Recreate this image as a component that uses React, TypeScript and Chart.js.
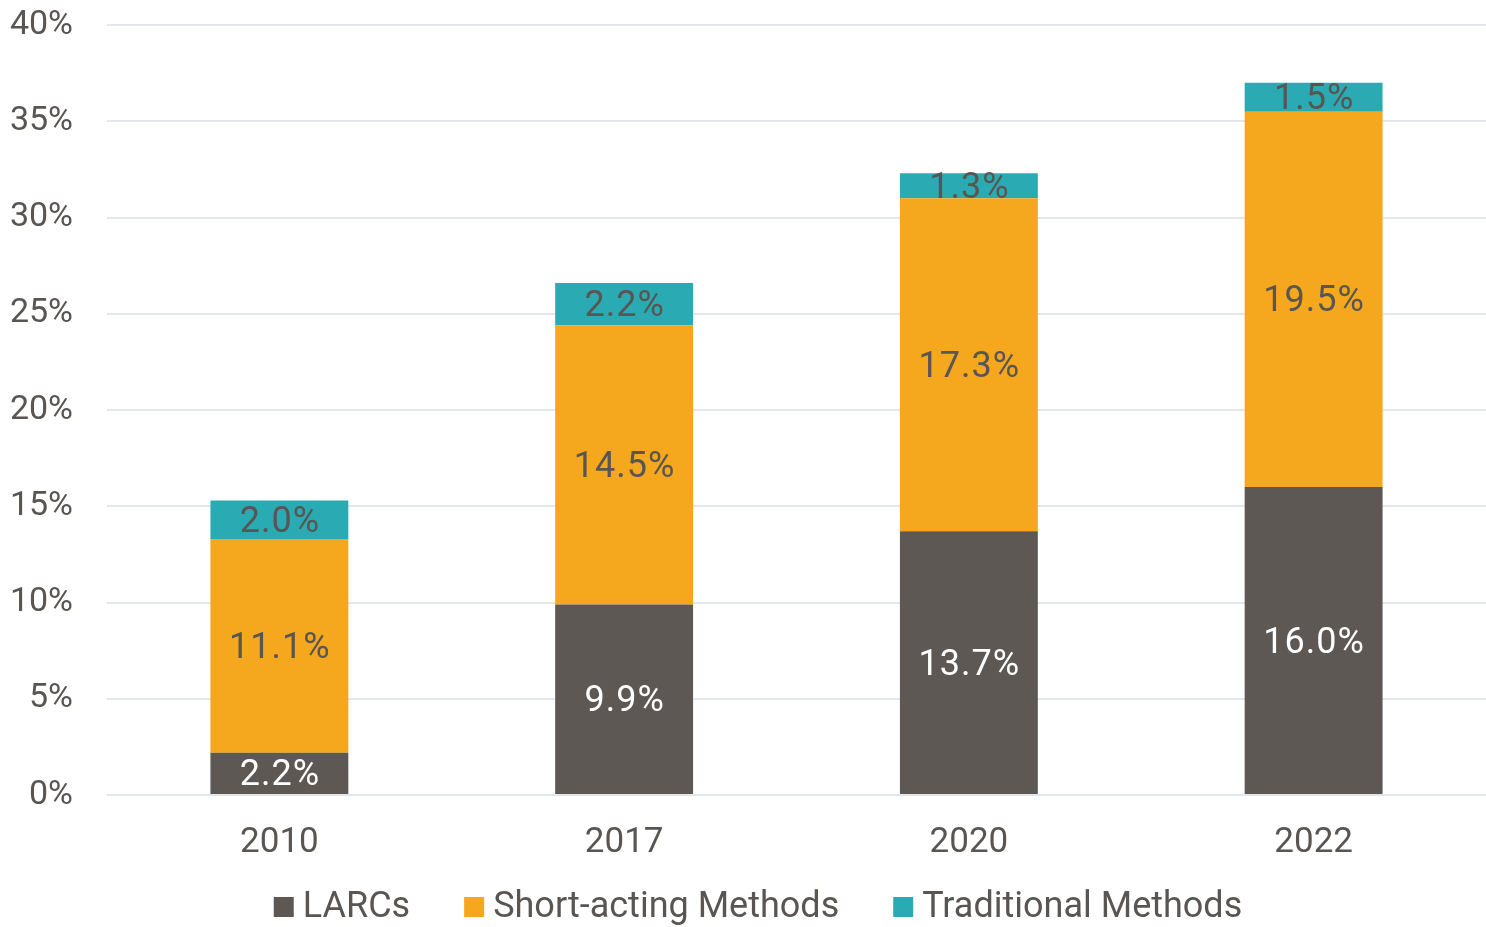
import React, { useEffect, useRef } from "react";
import { Chart, registerables } from "chart.js";

Chart.register(...registerables);

const categories = ["2010", "2017", "2020", "2022"];
const larcs = [2.2, 9.9, 13.7, 16.0];
const shortActing = [11.1, 14.5, 17.3, 19.5];
const traditional = [2.0, 2.2, 1.3, 1.5];
const yTicks = [0, 5, 10, 15, 20, 25, 30, 35, 40];

const FONT = "Roboto, sans-serif";
const TEXT = "#595552";

const labelPlugin = {
  id: "segLabels",
  afterDatasetsDraw(chart: any) {
    const ctx = chart.ctx;
    ctx.save();
    ctx.font = `36px ${FONT}`;
    ctx.textAlign = "center";
    ctx.textBaseline = "middle";
    try { (ctx as any).letterSpacing = "1px"; } catch (e) {}
    chart.data.datasets.forEach((ds: any, di: number) => {
      const meta = chart.getDatasetMeta(di);
      meta.data.forEach((bar: any, i: number) => {
        const v = ds.data[i];
        const yc = (bar.y + bar.base) / 2;
        ctx.fillStyle = di === 0 ? "#FFFFFF" : TEXT;
        ctx.fillText(v.toFixed(1) + "%", bar.x + 0.5, yc + 3);
      });
    });
    ctx.restore();
  },
};

const legendPlugin = {
  id: "customLegend",
  afterDraw(chart: any) {
    const ctx = chart.ctx;
    ctx.save();
    ctx.font = `36px ${FONT}`;
    ctx.textBaseline = "middle";
    ctx.textAlign = "left";
    const box = 20, boxGap = 9, itemGap = 54;
    const items = chart.data.datasets.map((d: any) => ({
      text: d.label,
      color: d.backgroundColor,
      w: ctx.measureText(d.label).width,
    }));
    const total = items.reduce((s: number, it: any) => s + box + boxGap + it.w, 0) + itemGap * (items.length - 1);
    let x = 758 - total / 2;
    const yc = 907;
    items.forEach((it: any) => {
      ctx.fillStyle = it.color;
      ctx.fillRect(x, yc - box / 2, box, box);
      ctx.fillStyle = TEXT;
      ctx.fillText(it.text, x + box + boxGap, yc + 1);
      x += box + boxGap + it.w + itemGap;
    });
    ctx.restore();
  },
};

export default function App() {
  const ref = useRef<HTMLCanvasElement | null>(null);
  useEffect(() => {
    if (!ref.current) return;
    const chart = new Chart(ref.current, {
      type: "bar",
      data: {
        labels: categories,
        datasets: [
          { label: "LARCs", data: larcs, backgroundColor: "#5D5854" },
          { label: "Short-acting Methods", data: shortActing, backgroundColor: "#F5A71E" },
          { label: "Traditional Methods", data: traditional, backgroundColor: "#2AABB3" },
        ],
      },
      options: {
        responsive: true,
        maintainAspectRatio: false,
        animation: false,
        layout: { padding: { top: 0, right: 0, left: 0, bottom: 44 } },
        datasets: { bar: { categoryPercentage: 1, barPercentage: 0.4 } },
        scales: {
          x: {
            stacked: true,
            grid: { display: false },
            border: { display: false },
            ticks: { color: TEXT, font: { family: FONT, size: 35 }, padding: 19 },
          },
          y: {
            stacked: true,
            min: 0,
            max: 40,
            afterBuildTicks: (s: any) => { s.ticks = yTicks.map((v) => ({ value: v })); },
            afterFit: (s: any) => { s.width = 107; s.paddingTop = 25; s.paddingBottom = 0; },
            grid: { color: "#E3E6EB", lineWidth: 2, drawTicks: false },
            border: { display: false },
            ticks: {
              color: TEXT,
              font: { family: FONT, size: 34 },
              padding: 34,
              callback: (v: any) => v + "%",
            },
          },
        },
        plugins: {
          legend: { display: false },
          tooltip: { enabled: false },
        },
      },
      plugins: [labelPlugin, legendPlugin],
    });
    return () => chart.destroy();
  }, []);
  return (
    <div style={{ position: "fixed", left: 0, top: 0, width: 1486, height: 927, background: "#fff" }}>
      <canvas ref={ref} />
    </div>
  );
}
